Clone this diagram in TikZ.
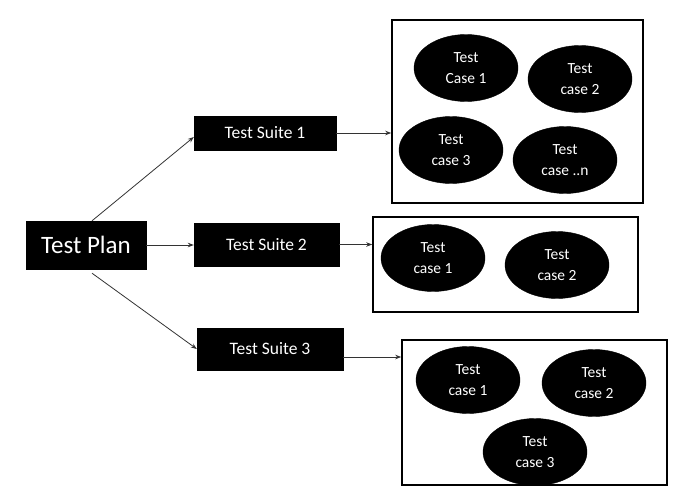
\documentclass[tikz,border=0pt]{standalone}
\usepackage{fontspec}
\setmainfont{Carlito}
\usetikzlibrary{shapes.geometric,arrows.meta}
\begin{document}
\begin{tikzpicture}[x=1pt,y=-1pt,
  blackbox/.style={fill=black,draw=black,text=white,inner sep=0pt},
  casenode/.style={ellipse,fill=black,draw=black,text=white,inner sep=0pt,
    minimum width=104pt,minimum height=67pt,align=center,
    font=\fontsize{15.5}{21}\selectfont},
  group/.style={draw=black,line width=1.6pt,fill=none},
  link/.style={draw=black!80,line width=0.8pt,-{Stealth[length=6pt,width=4.5pt]}}]
\useasboundingbox (0,0) rectangle (687,503);

% plan and suites
\node[blackbox,minimum width=120pt,minimum height=48pt,font=\fontsize{25}{30}\selectfont] (plan) at (86,245) {Test Plan};
\node[blackbox,minimum width=142pt,minimum height=34pt,font=\fontsize{17.5}{21}\selectfont] (s1) at (265,133) {Test Suite 1};
\node[blackbox,minimum width=145pt,minimum height=43pt,font=\fontsize{17.5}{21}\selectfont] (s2) at (266.5,244.5) {Test Suite 2};
\node[blackbox,minimum width=146pt,minimum height=42pt,font=\fontsize{17.5}{21}\selectfont] (s3) at (270,349) {Test Suite 3};

% group frames
\node[group,minimum width=251pt,minimum height=183pt,inner sep=0pt] (g1) at (517.5,111.5) {};
\node[group,minimum width=265pt,minimum height=95pt,inner sep=0pt] (g2) at (505.5,264.5) {};
\node[group,minimum width=265pt,minimum height=145pt,inner sep=0pt] (g3) at (534.5,412.5) {};

% test cases
\node[casenode] (c11) at (466,68) {Test\\Case 1};
\node[casenode] (c12) at (580,79) {Test\\case 2};
\node[casenode] (c13) at (451,150) {Test\\case 3};
\node[casenode] (c1n) at (565,160) {Test\\case ..n};

\node[casenode] (c21) at (433,258) {Test\\case 1};
\node[casenode] (c22) at (557,265) {Test\\case 2};

\node[casenode] (c31) at (468,380) {Test\\case 1};
\node[casenode] (c32) at (594,383) {Test\\case 2};
\node[casenode] (c33) at (535,452) {Test\\case 3};

% connectors
\draw[link] ([xshift=6pt]plan.north) -- (s1.west |- 0,137);
\draw[link] (plan.east) -- (s2.west |- plan.east);
\draw[link] ([xshift=6pt,yshift=-4pt]plan.south) -- (s3.west |- 0,349);
\draw[link] (s1.east) -- (g1.west |- s1.east);
\draw[link] (s2.east) -- (g2.west |- s2.east);
\draw[link] (s3.east |- 0,357) -- (g3.west |- 0,357);
\end{tikzpicture}
\end{document}
